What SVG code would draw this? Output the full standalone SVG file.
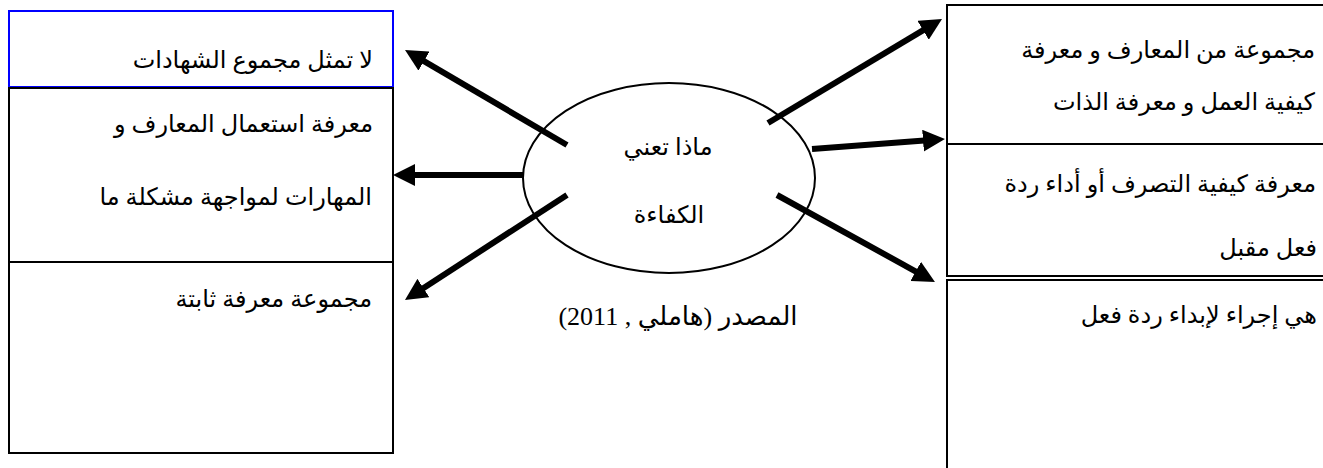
<svg xmlns="http://www.w3.org/2000/svg" width="1323" height="468" viewBox="0 0 1323 468">
<style>
.box{fill:none;stroke:#000;stroke-width:2}
.blue{fill:none;stroke:#0000ff;stroke-width:2}
.t{font-family:"Liberation Serif","DejaVu Sans",serif;font-size:24px;fill:#000;direction:rtl;text-anchor:start}
.c{font-family:"Liberation Serif","DejaVu Sans",serif;font-size:24px;fill:#000;direction:rtl;text-anchor:middle}
.s{font-family:"Liberation Serif","DejaVu Sans",serif;font-size:26px;fill:#000;direction:rtl;text-anchor:middle}
.arr{stroke:#000;stroke-width:6;fill:none;marker-end:url(#ah)}
</style>
<defs>
<marker id="ah" viewBox="0 0 22 22" refX="8" refY="11" markerWidth="22" markerHeight="22" markerUnits="userSpaceOnUse" orient="auto">
<path d="M0,0 L22,11 L0,22 z" fill="#000"/>
</marker>
</defs>
<rect width="1323" height="468" fill="#fff"/>
<g id="left1"><rect class="blue" x="9" y="11" width="384" height="76"/><text class="t" x="373" y="68">لا تمثل مجموع الشهادات</text></g>
<g id="left2"><rect class="box" x="9" y="88" width="384" height="174"/><text class="t" x="373" y="132">معرفة استعمال المعارف و</text><text class="t" x="372" y="205">المهارات لمواجهة مشكلة ما</text></g>
<g id="left3"><rect class="box" x="9" y="262" width="384" height="191"/><text class="t" x="372" y="307">مجموعة معرفة ثابتة</text></g>
<g id="right1"><path class="box" d="M1325,5 H947 V144 H1325"/><text class="t" x="1315" y="58">مجموعة من المعارف و معرفة</text><text class="t" x="1315" y="110">كيفية العمل و معرفة الذات</text></g>
<g id="right2"><path class="box" d="M1325,144 H947 V276 H1325"/><text class="t" x="1316" y="192">معرفة كيفية التصرف أو أداء ردة</text><text class="t" x="1317" y="256">فعل مقبل</text></g>
<g id="right3"><path class="box" d="M1325,280 H947 V470"/><text class="t" x="1317" y="323">هي إجراء لإبداء ردة فعل</text></g>
<g id="center"><ellipse cx="669" cy="178" rx="146" ry="95" fill="none" stroke="#000" stroke-width="2"/><text class="c" x="668" y="155">ماذا تعني</text><text class="c" x="669" y="223">الكفاءة</text></g>
<g id="source"><text class="s" x="678" y="325">المصدر (هاملي , 2011)</text></g>
<g id="connectors">
<line class="arr" x1="567" y1="145" x2="417.1" y2="57.1"/>
<line class="arr" x1="523" y1="175" x2="407" y2="175"/>
<line class="arr" x1="567" y1="195" x2="416.7" y2="292.4"/>
<line class="arr" x1="768" y1="123" x2="930" y2="26.2"/>
<line class="arr" x1="812" y1="149" x2="931" y2="140"/>
<line class="arr" x1="777" y1="195" x2="922.7" y2="275.3"/>
</g>
</svg>
